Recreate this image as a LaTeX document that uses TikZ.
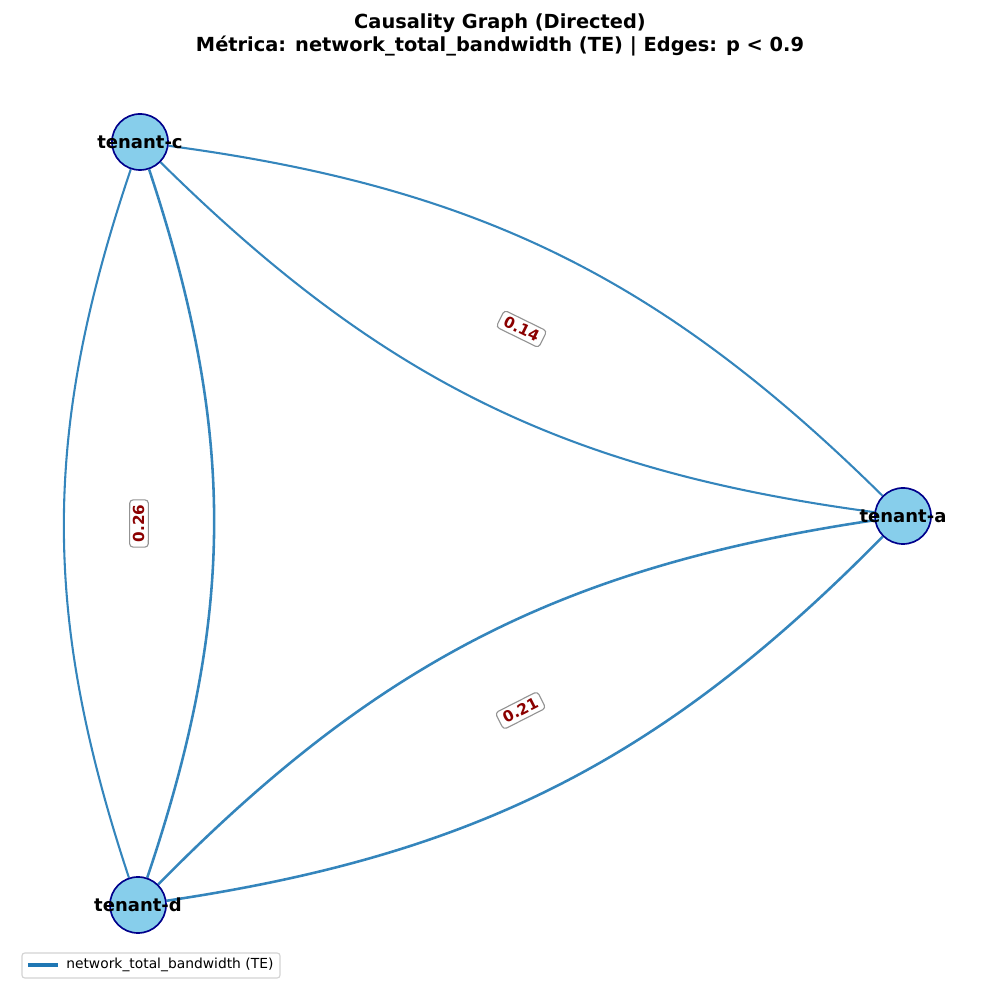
\documentclass[tikz,border=0pt]{standalone}
\usepackage{fontspec}
\setmainfont{DejaVu Sans}
\usetikzlibrary{positioning}
\usetikzlibrary{backgrounds}

\definecolor{nodefill}{HTML}{87CEEB}
\definecolor{nodeline}{HTML}{00008B}
\definecolor{edgeblue}{HTML}{3485BC}
\definecolor{pvalred}{HTML}{8B0000}
\definecolor{legendblue}{HTML}{1F77B4}

\tikzset{
  tenant/.style={circle, draw=nodeline, fill=nodefill, line width=1.2pt, minimum size=0.56in, inner sep=0pt},
  tenantlabel/.style={font=\fontsize{13}{15}\selectfont\bfseries, text=black, inner sep=0pt},
  causal/.style={draw=edgeblue, line width=1.5pt},
  heavy/.style={line width=1.85pt},
  pval/.style={draw=gray!85, fill=white, rounded corners=2.5pt, line width=0.8pt, text=pvalred,
    font=\fontsize{11}{13}\selectfont\bfseries, inner xsep=3.5pt, inner ysep=3pt, text height=7.5pt, text depth=0pt},
  title/.style={align=center, font=\fontsize{14}{16.6}\selectfont\bfseries, inner sep=0pt}
}

\begin{document}
\begin{tikzpicture}[x=0.01in, y=0.01in]
  \useasboundingbox (0,0) rectangle (1000,1000);

  % title
  \node[title] (heading) at (500,965) {Causality Graph (Directed)\\Métrica: network\_total\_bandwidth (TE) | Edges: p < 0.9};

  % draw nodes
  \node[tenant, label={[tenantlabel]center:tenant-c}] (tenantc) at (140,858) {};
  \node[tenant, label={[tenantlabel]center:tenant-a}] (tenanta) at (903,484) {};
  \node[tenant, label={[tenantlabel]center:tenant-d}] (tenantd) at (138,95) {};

  % draw edges, one per direction
  \begin{scope}[on background layer]
    \draw[causal] (tenantc) to[bend right=18.5] (tenanta);
    \draw[causal] (tenanta) to[bend right=18.5] (tenantc);
    \draw[causal] (tenantc) to[bend right=18.5] (tenantd);
    \draw[causal, heavy] (tenantd) to[bend right=18.5] (tenantc);
    \draw[causal, heavy] (tenantd) to[bend right=18.5] (tenanta);
    \draw[causal, heavy] (tenanta) to[bend right=18.5] (tenantd);
  \end{scope}

  % edge labels
  \path (tenantc) -- node[pval, sloped] (pvalca) {0.14} (tenanta);
  \path (tenantd) -- node[pval, sloped] (pvaldc) {0.26} (tenantc);
  \path (tenantd) -- node[pval, sloped] (pvalda) {0.21} (tenanta);

  % legend
  \node[anchor=west, inner sep=0pt, font=\fontsize{10}{12}\selectfont] (legendentry) at (66,35) {network\_total\_bandwidth (TE)};
  \draw[legendblue, line width=2.5pt] ([xshift=-0.38in]legendentry.west) -- ([xshift=-0.08in]legendentry.west);
  \draw[gray!35, line width=0.8pt, rounded corners=2pt] (22,22) rectangle (280,47);
\end{tikzpicture}
\end{document}
